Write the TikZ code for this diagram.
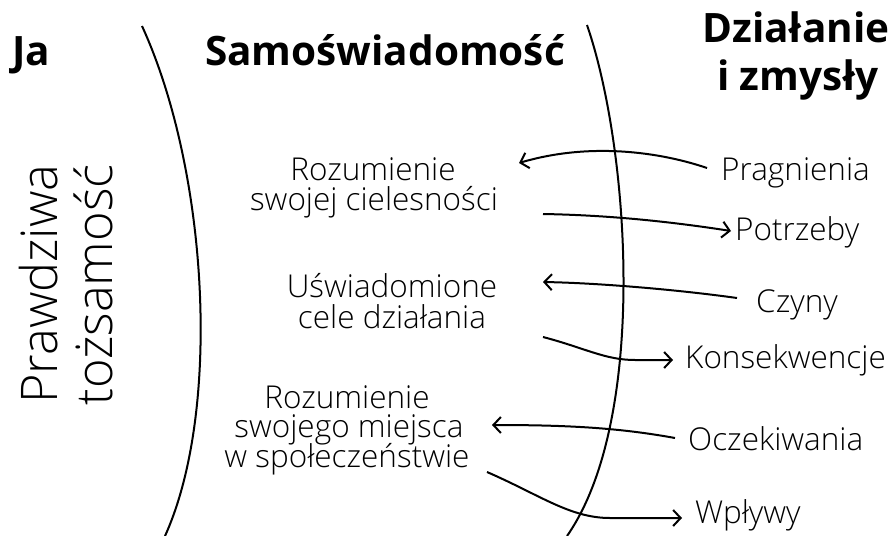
\documentclass[tikz,border=0pt]{standalone}
\usepackage{fontspec}
\setmainfont{Open Sans}
\newfontfamily\lightfont{Open Sans Light}
\usetikzlibrary{arrows.meta}
\tikzset{
  head/.style={inner sep=0pt, font=\fontsize{40.5}{48}\selectfont\bfseries},
  big/.style={inner sep=0pt, font=\fontsize{50.5}{55}\selectfont\lightfont},
  mid/.style={inner sep=0pt, anchor=base, font=\fontsize{31.5}{30}\selectfont\lightfont},
  lab/.style={inner sep=0pt, anchor=base west, font=\fontsize{31.5}{30}\selectfont\lightfont},
  arc/.style={line width=2pt},
  conn/.style={line width=2pt, -{Straight Barb[length=7.5pt,width=16pt,line width=2pt]}},
}
\begin{document}
\begin{tikzpicture}[x=1pt,y=-1pt]
\useasboundingbox (0,0) rectangle (893,535);
% headings
\node[head, anchor=base west] (ja) at (12,66) {Ja};
\node[head, anchor=base] (samo) at (385,66) {Samoświadomość};
\node[head, anchor=base] (dz1) at (796,42) {Działanie};
\node[head, anchor=base] (dz2) at (798,90) {i zmysły};
% rotated
\node[big, anchor=base west, rotate=90] (pr1) at (57,404) {Prawdziwa};
\node[big, anchor=base west, rotate=90] (pr2) at (112,406) {tożsamość};
% arcs
\draw[arc] (142,26) .. controls (208,170) and (222,410) .. (165,536);
\draw[arc] (587,25) .. controls (630,150) and (648,420) .. (567,536);
% middle texts
\node[mid] (a1) at (373,180) {Rozumienie};
\node[mid] (a2) at (374,210) {swojej cielesności};
\node[mid] (b1) at (392,297) {Uświadomione};
\node[mid] (b2) at (392,328) {cele działania};
\node[mid] (c1) at (347,408) {Rozumienie};
\node[mid] (c2) at (349,437.5) {swojego miejsca};
\node[mid] (c3) at (347,467) {w społeczeństwie};
% right labels
\node[lab] (p1) at (721,180) {Pragnienia};
\node[lab] (p2) at (735,240) {Potrzeby};
\node[lab] (p3) at (756,312) {Czyny};
\node[lab] (p4) at (685,368) {Konsekwencje};
\node[lab] (p5) at (688,450) {Oczekiwania};
\node[lab] (p6) at (695,523) {Wpływy};
% connector endpoints
\coordinate (s1) at (707,168); \coordinate (e1) at (519,163);
\coordinate (s2) at (543,214); \coordinate (e2) at (731,231);
\coordinate (s3) at (737,298); \coordinate (e3) at (543,282);
\coordinate (s4) at (543,337); \coordinate (e4) at (673,360);
\coordinate (s5) at (675,438); \coordinate (e5) at (492,425);
\coordinate (s6) at (487,472); \coordinate (e6) at (682,518);
\draw[conn] (s1) .. controls (660,152) and (590,142) .. (e1);
\draw[conn] (s2) .. controls (600,215) and (660,220) .. (e2);
\draw[conn] (s3) .. controls (680,290) and (600,283) .. (e3);
\draw[conn] (s4) .. controls (585,348) and (605,360) .. (635,360) -- (e4);
\draw[conn] (s5) .. controls (620,428) and (570,425) .. (e5);
\draw[conn] (s6) .. controls (540,495) and (570,518) .. (610,518) -- (e6);
\end{tikzpicture}
\end{document}
